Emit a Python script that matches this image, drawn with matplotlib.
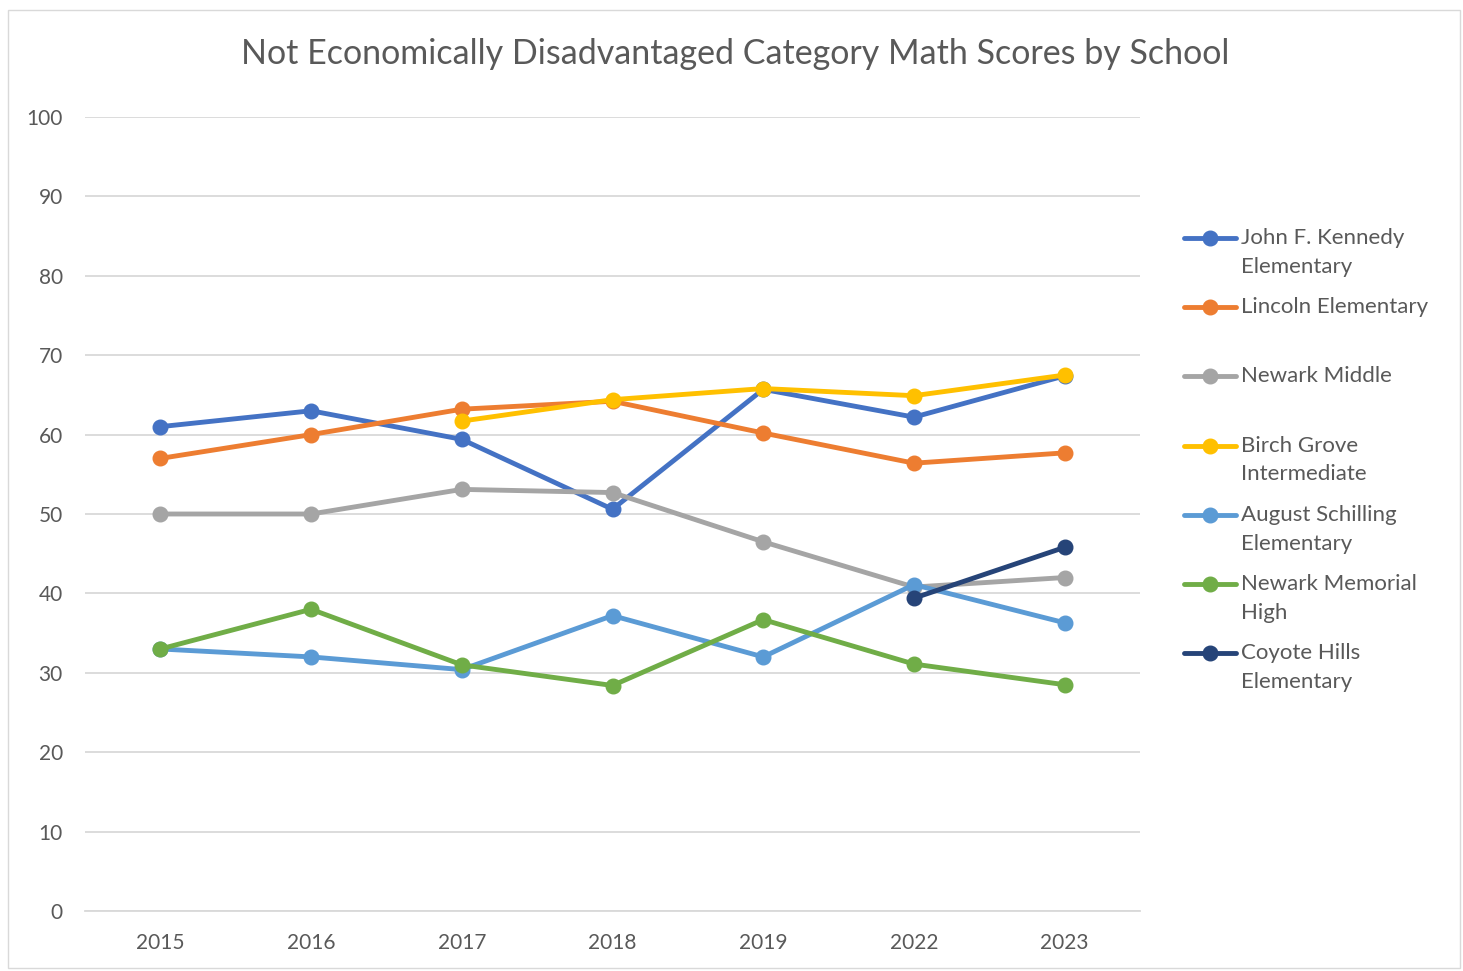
import numpy as np
import matplotlib.pyplot as plt
from matplotlib.lines import Line2D
from matplotlib.patches import Rectangle

plt.rcParams['font.family'] = ['Lato', 'DejaVu Sans']

years = ['2015', '2016', '2017', '2018', '2019', '2022', '2023']
nan = np.nan

schools = ['John F. Kennedy\nElementary', 'Lincoln Elementary', 'Newark Middle',
           'Birch Grove\nIntermediate', 'August Schilling\nElementary',
           'Newark Memorial\nHigh', 'Coyote Hills\nElementary']
jfk = [61.0, 63.0, 59.4, 50.6, 65.7, 62.2, 67.4]
lincoln = [57.0, 60.0, 63.2, 64.2, 60.2, 56.4, 57.7]
newark_middle = [50.0, 50.0, 53.1, 52.7, 46.5, 40.8, 42.0]
birch_grove = [nan, nan, 61.7, 64.4, 65.8, 64.9, 67.5]
schilling = [33.0, 32.0, 30.4, 37.2, 32.0, 41.1, 36.3]
memorial = [33.0, 38.0, 31.0, 28.4, 36.7, 31.1, 28.5]
coyote = [nan, nan, nan, nan, nan, 39.4, 45.8]
series = [jfk, lincoln, newark_middle, birch_grove, schilling, memorial, coyote]
colors = ['#4472c4', '#ed7d31', '#a5a5a5', '#ffc000', '#5b9bd5', '#70ad47', '#264478']

W, H = 1463, 971
fig = plt.figure(figsize=(W / 100, H / 100), dpi=100)
ax = fig.add_axes([85 / W, 1 - 911 / H, (1140 - 85) / W, (911 - 117) / H])

x = np.arange(len(years))
for vals, c in zip(series, colors):
    ax.plot(x, vals, color=c, lw=3.5, marker='o', ms=10.5, mec=c, solid_capstyle='round', clip_on=False)

ax.set_xlim(-0.5, len(years) - 0.5)
ax.set_ylim(0, 100)
ax.set_yticks(range(0, 101, 10))
ax.set_xticks(x)
ax.set_xticklabels(years)
ax.tick_params(length=0, labelsize=15, colors='#595959')
ax.tick_params(axis='x', pad=16)
ax.tick_params(axis='y', pad=16)
ax.grid(axis='y', color='#d9d9d9', lw=1.3)
ax.set_axisbelow(True)
for s in ['top', 'right', 'left']:
    ax.spines[s].set_visible(False)
ax.spines['bottom'].set_color('#d9d9d9')
ax.spines['bottom'].set_linewidth(1.3)

fig.text(735 / W, 1 - 54 / H, 'Not Economically Disadvantaged Category Math Scores by School',
         ha='center', va='center', fontsize=24.5, color='#595959')

# legend, one slot per school
for i, (name, c) in enumerate(zip(schools, colors)):
    yy = 1 - (238 + 69.2 * i) / H
    fig.add_artist(Line2D([1184 / W, 1236 / W], [yy, yy], color=c, lw=3.5, solid_capstyle='round'))
    fig.add_artist(Line2D([1210 / W], [yy], color=c, marker='o', ms=10.5, mec=c))
    fig.text(1241 / W, yy + 10 / H, name, ha='left', va='top', fontsize=16,
             color='#595959', linespacing=1.55)

fig.add_artist(Rectangle((8 / W, 3 / H), 1452 / W, 958 / H, fill=False,
                         edgecolor='#d9d9d9', lw=1))

fig.savefig('out.png', dpi=100)
